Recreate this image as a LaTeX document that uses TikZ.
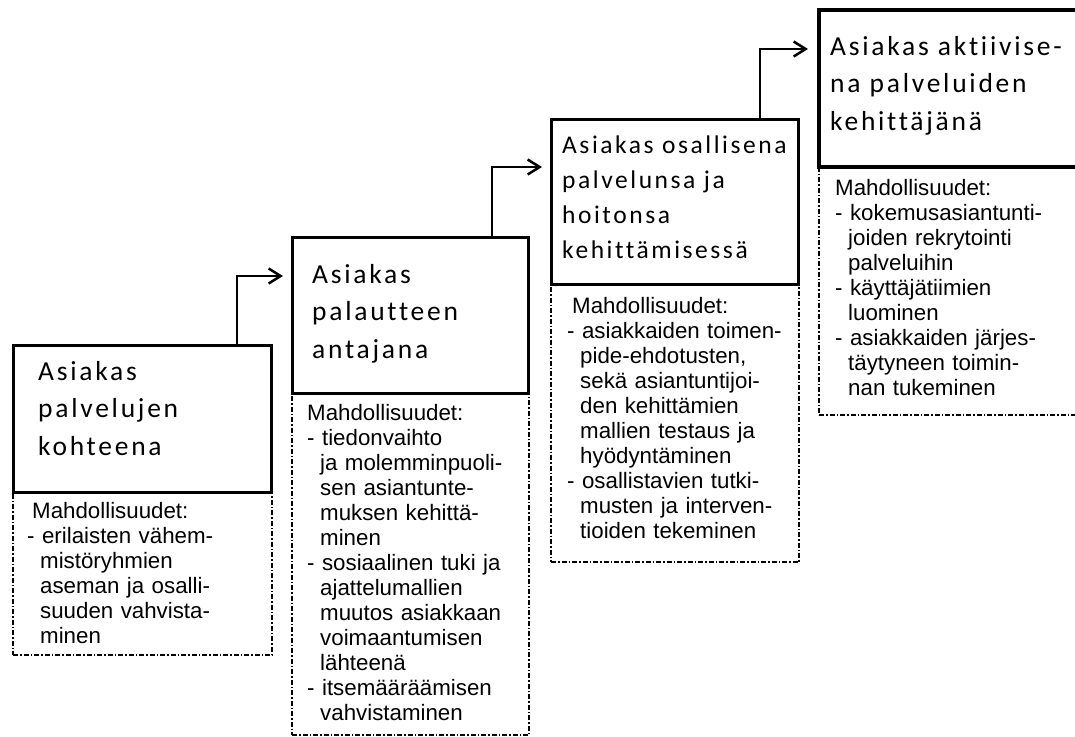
\documentclass[tikz,border=0pt]{standalone}
\usepackage{fontspec}
\setmainfont{Liberation Sans}
\newfontfamily\titlefont[LetterSpace=10,Ligatures=NoCommon]{Carlito}
\usetikzlibrary{arrows.meta}
\newcommand\hind{\hspace*{13pt}}
\begin{document}
\begin{tikzpicture}[x=1pt,y=-1pt,
  mainbox/.style={draw, line width=3pt, anchor=north west, inner sep=0pt, outer sep=0pt},
  optbox/.style={draw, line width=1.5pt, dash pattern=on 5pt off 2pt on 1.5pt off 2pt, anchor=north west, inner sep=0pt, outer sep=0pt},
  title/.style={anchor=base west, inner sep=0pt, text width=300pt, align=left, font=\titlefont\fontsize{27.5}{37.5}\selectfont},
  body/.style={anchor=base west, inner sep=0pt, text width=300pt, align=left, font=\fontsize{22.3}{25}\selectfont},
  conn/.style={line width=2.5pt, -{Straight Barb[length=12pt,width=15pt,line width=2.5pt]}}
]
\useasboundingbox (0,0) rectangle (1075,736);

% option boxes (dash-dot)
\node[optbox, minimum width=259, minimum height=163] (o1) at (13,492) {};
\node[optbox, minimum width=237, minimum height=342] (o2) at (292,393) {};
\node[optbox, minimum width=248, minimum height=278] (o3) at (551,284) {};
\node[optbox, minimum width=270, minimum height=248] (o4) at (819,167) {};

% main boxes
\node[mainbox, minimum width=258, minimum height=147] (b1) at (13,345) {};
\node[mainbox, minimum width=236, minimum height=156] (b2) at (292,237) {};
\node[mainbox, minimum width=247, minimum height=165] (b3) at (551,119) {};
\node[mainbox, line width=4pt, minimum width=270, minimum height=157] (b4) at (819,10) {};

% connectors
\draw[conn] ([xshift=224pt]b1.north west) |- ([xshift=-9pt,yshift=-39pt]b2.north west);
\draw[conn] ([xshift=200pt]b2.north west) |- ([xshift=-9pt,yshift=-48pt]b3.north west);
\draw[conn] ([xshift=209pt]b3.north west) |- ([xshift=-11pt,yshift=-39pt]b4.north west);

% titles
\node[title] (t1) at (38,380) {Asiakas\\palvelujen\\kohteena};
\node[title] (t2) at (312,283) {Asiakas\\palautteen\\antajana};
\node[title, font=\titlefont\fontsize{25.5}{35}\selectfont] (t3) at (562,153) {Asiakas osallisena\\palvelunsa ja\\hoitonsa\\kehittämisessä};
\node[title] (t4) at (830,55) {Asiakas aktiivise-\\na palveluiden\\kehittäjänä};

% bodies
\node[body] (m1) at (27,518) {\hspace*{5pt}Mahdollisuudet:\\
- erilaisten vähem-\\
\hind mistöryhmien\\
\hind aseman ja osalli-\\
\hind suuden vahvista-\\
\hind minen};

\node[body] (m2) at (307,420) {Mahdollisuudet:\\
- tiedonvaihto\\
\hind ja molemminpuoli-\\
\hind sen asiantunte-\\
\hind muksen kehittä-\\
\hind minen\\
- sosiaalinen tuki ja\\
\hind ajattelumallien\\
\hind muutos asiakkaan\\
\hind voimaantumisen\\
\hind lähteenä\\
- itsemääräämisen\\
\hind vahvistaminen};

\node[body] (m3) at (567,313) {\hspace*{5pt}Mahdollisuudet:\\
- asiakkaiden toimen-\\
\hind pide-ehdotusten,\\
\hind sekä asiantuntijoi-\\
\hind den kehittämien\\
\hind mallien testaus ja\\
\hind hyödyntäminen\\
- osallistavien tutki-\\
\hind musten ja interven-\\
\hind tioiden tekeminen};

\node[body] (m4) at (835,195) {Mahdollisuudet:\\
- kokemusasiantunti-\\
\hind joiden rekrytointi\\
\hind palveluihin\\
- käyttäjätiimien\\
\hind luominen\\
- asiakkaiden järjes-\\
\hind täytyneen toimin-\\
\hind nan tukeminen};
\end{tikzpicture}
\end{document}
